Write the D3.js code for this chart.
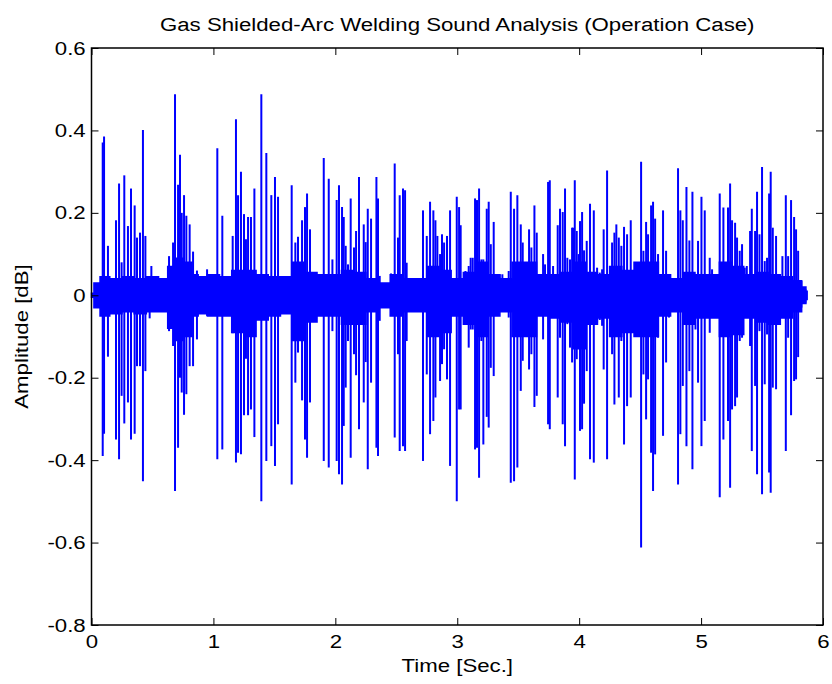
<!DOCTYPE html>
<html>
<head>
<meta charset="utf-8">
<script src="https://cdn.jsdelivr.net/npm/d3@7"></script>
<style>
  body { margin: 0; background: #fff; }
  text { font-family: "Liberation Sans", Arial, sans-serif; }
</style>
</head>
<body>
<div id="graph"></div>
<script>
let width = 832;
let height = 684;

// tick labels
let xTicks = [0, 1, 2, 3, 4, 5, 6];
let yTicks = [-0.8, -0.6, -0.4, -0.2, 0, 0.2, 0.4, 0.6];

// background noise envelope (time, upper, lower)
let bandT  = [0, 0.04, 0.1, 0.2, 0.3, 0.4, 0.5, 0.6, 0.65, 0.7, 0.8, 0.85, 0.9, 1.0, 1.1, 1.2, 1.3, 1.4, 1.5, 1.6, 1.7, 1.8, 1.9, 2.0, 2.1, 2.2, 2.3, 2.4, 2.5, 2.6, 2.7, 2.8, 2.9, 3.0, 3.1, 3.2, 3.3, 3.4, 3.5, 3.6, 3.7, 3.8, 3.9, 4.0, 4.1, 4.2, 4.3, 4.4, 4.5, 4.6, 4.7, 4.8, 4.9, 5.0, 5.1, 5.2, 5.3, 5.4, 5.5, 5.6, 5.7, 5.8, 5.85, 5.87];
let bandHi = [0.005, 0.03, 0.045, 0.04, 0.045, 0.04, 0.045, 0.04, 0.07, 0.09, 0.08, 0.05, 0.045, 0.05, 0.045, 0.06, 0.06, 0.05, 0.045, 0.045, 0.08, 0.055, 0.05, 0.05, 0.06, 0.055, 0.04, 0.03, 0.05, 0.04, 0.04, 0.07, 0.06, 0.04, 0.055, 0.08, 0.05, 0.04, 0.08, 0.08, 0.05, 0.05, 0.055, 0.08, 0.055, 0.05, 0.07, 0.06, 0.08, 0.08, 0.05, 0.04, 0.055, 0.05, 0.05, 0.08, 0.07, 0.05, 0.055, 0.05, 0.045, 0.035, 0.02, 0.01];
let bandLo = [-0.005, -0.03, -0.05, -0.045, -0.04, -0.045, -0.04, -0.04, -0.08, -0.11, -0.1, -0.05, -0.045, -0.05, -0.05, -0.09, -0.1, -0.06, -0.05, -0.045, -0.11, -0.065, -0.05, -0.05, -0.07, -0.07, -0.04, -0.03, -0.05, -0.04, -0.04, -0.1, -0.09, -0.05, -0.07, -0.1, -0.05, -0.04, -0.1, -0.1, -0.05, -0.055, -0.065, -0.13, -0.07, -0.055, -0.1, -0.09, -0.1, -0.1, -0.05, -0.04, -0.07, -0.055, -0.055, -0.1, -0.095, -0.055, -0.065, -0.07, -0.055, -0.04, -0.02, -0.01];

// individual spikes (time, peak up, peak down)
let spikeT = [
  0.092, 0.103, 0.135, 0.201, 0.226, 0.247, 0.269, 0.299, 0.324, 0.354, 0.373, 0.398, 0.422, 0.442, 0.477, 0.491, 0.636, 0.669, 0.685, 0.710, 0.726, 0.740, 0.759, 0.778, 0.805, 0.833, 0.865, 0.948,
  1.032, 1.073, 1.158, 1.185, 1.202, 1.226, 1.251, 1.267, 1.284, 1.308, 1.336, 1.393, 1.434, 1.475, 1.505, 1.530, 1.642, 1.672, 1.694, 1.727, 1.751, 1.768, 1.792, 1.905, 1.946, 1.976,
  2.011, 2.030, 2.055, 2.069, 2.085, 2.104, 2.126, 2.153, 2.170, 2.194, 2.233, 2.249, 2.266, 2.293, 2.337, 2.350, 2.364, 2.457, 2.487, 2.514, 2.528, 2.555, 2.572, 2.585, 2.719, 2.750, 2.777, 2.804, 2.821, 2.837, 2.859, 2.875, 2.892, 2.916, 2.941,
  2.996, 3.015, 3.028, 3.039, 3.067, 3.094, 3.110, 3.127, 3.146, 3.162, 3.179, 3.198, 3.214, 3.242, 3.258, 3.275, 3.299, 3.327, 3.348, 3.370, 3.400, 3.422, 3.439, 3.466, 3.493, 3.521, 3.537, 3.553, 3.589, 3.608, 3.633, 3.652, 3.704, 3.720, 3.745, 3.759, 3.786, 3.824, 3.843, 3.865, 3.884, 3.903, 3.925, 3.942,
  3.950, 3.964, 3.980, 3.996, 4.007, 4.024, 4.040, 4.062, 4.089, 4.120, 4.147, 4.169, 4.188, 4.201, 4.229, 4.253, 4.270, 4.289, 4.305, 4.325, 4.346, 4.368, 4.393, 4.423, 4.445, 4.508, 4.527, 4.549, 4.565, 4.590, 4.606, 4.623, 4.647, 4.688, 4.713, 4.737, 4.811, 4.830, 4.850, 4.880, 4.904, 4.929,
  4.954, 4.975, 5.003, 5.030, 5.071, 5.090, 5.153, 5.183, 5.221, 5.238, 5.254, 5.279, 5.295, 5.317, 5.336, 5.358, 5.375, 5.402, 5.416, 5.443, 5.459, 5.479, 5.500, 5.522, 5.541, 5.558, 5.571, 5.588, 5.615, 5.632, 5.667, 5.695, 5.714, 5.738, 5.763, 5.779, 5.796, 5.823, 5.856
];
let spikeHi = [
  0.371, 0.385, 0.12, 0.182, 0.271, 0.08, 0.291, 0.168, 0.259, 0.218, 0.14, 0.152, 0.401, 0.144, 0.04, 0.071, 0.095, 0.128, 0.488, 0.268, 0.341, 0.2, 0.243, 0.193, 0.172, 0.106, 0.06, 0.063,
  0.357, 0.193, 0.144, 0.427, 0.243, 0.30, 0.197, 0.136, 0.19, 0.19, 0.259, 0.488, 0.345, 0.243, 0.287, 0.239, 0.267, 0.128, 0.142, 0.182, 0.214, 0.247, 0.16, 0.333, 0.283, 0.087,
  0.231, 0.267, 0.214, 0.19, 0.12, 0.075, 0.235, 0.116, 0.156, 0.287, 0.172, 0.129, 0.21, 0.186, 0.287, 0.235, 0.047, 0.053, 0.32, 0.14, 0.243, 0.259, 0.255, 0.079, 0.206, 0.144, 0.227, 0.206, 0.182, 0.144, 0.1, 0.148, 0.128, 0.144, 0.206,
  0.239, 0.214, 0.17, 0.039, 0.059, 0.071, 0.091, 0.091, 0.235, 0.231, 0.259, 0.087, 0.087, 0.21, 0.227, 0.124, 0.178, 0.047, 0.051, 0.051, 0.027, 0.059, 0.251, 0.21, 0.243, 0.172, 0.128, 0.075, 0.16, 0.116, 0.218, 0.152, 0.1, 0.075, 0.275, 0.279, 0.071, 0.17, 0.21, 0.202, 0.259, 0.091, 0.087, 0.164,
  0.164, 0.279, 0.156, 0.1, 0.18, 0.202, 0.109, 0.132, 0.222, 0.206, 0.067, 0.055, 0.063, 0.16, 0.303, 0.063, 0.128, 0.152, 0.172, 0.14, 0.12, 0.166, 0.148, 0.182, 0.055, 0.324, 0.108, 0.178, 0.148, 0.218, 0.227, 0.186, 0.1, 0.206, 0.108, 0.051, 0.308, 0.206, 0.182, 0.263, 0.133, 0.251,
  0.047, 0.132, 0.239, 0.206, 0.091, 0.063, 0.247, 0.213, 0.213, 0.271, 0.182, 0.176, 0.14, 0.108, 0.124, 0.067, 0.071, 0.156, 0.21, 0.156, 0.251, 0.148, 0.311, 0.083, 0.091, 0.247, 0.30, 0.164, 0.144, 0.039, 0.095, 0.243, 0.095, 0.231, 0.19, 0.16, 0.108, 0.035, 0.015
];
let spikeLo = [
  -0.39, -0.336, -0.149, -0.35, -0.398, -0.244, -0.311, -0.26, -0.35, -0.336, -0.172, -0.172, -0.451, -0.184, -0.056, -0.04, -0.087, -0.123, -0.475, -0.37, -0.2, -0.236, -0.29, -0.24, -0.172, -0.172, -0.107, -0.05,
  -0.398, -0.374, -0.092, -0.406, -0.382, -0.386, -0.291, -0.154, -0.291, -0.277, -0.344, -0.50, -0.402, -0.366, -0.414, -0.313, -0.459, -0.212, -0.139, -0.255, -0.35, -0.394, -0.26, -0.402, -0.418, -0.087,
  -0.402, -0.434, -0.459, -0.317, -0.224, -0.111, -0.394, -0.143, -0.194, -0.325, -0.26, -0.162, -0.422, -0.212, -0.37, -0.39, -0.062, -0.04, -0.345, -0.143, -0.378, -0.366, -0.378, -0.111, -0.402, -0.192, -0.337, -0.305, -0.248, -0.1, -0.208, -0.167, -0.131, -0.204, -0.414,
  -0.50, -0.277, -0.277, -0.04, -0.054, -0.127, -0.083, -0.083, -0.374, -0.37, -0.443, -0.111, -0.362, -0.295, -0.321, -0.176, -0.196, -0.046, -0.04, -0.04, -0.038, -0.054, -0.455, -0.451, -0.418, -0.232, -0.159, -0.099, -0.18, -0.143, -0.271, -0.244, -0.107, -0.038, -0.313, -0.325, -0.038, -0.248, -0.103, -0.313, -0.366, -0.07, -0.127, -0.163,
  -0.13, -0.447, -0.155, -0.1, -0.329, -0.325, -0.263, -0.184, -0.398, -0.406, -0.066, -0.06, -0.074, -0.18, -0.398, -0.06, -0.143, -0.265, -0.1, -0.248, -0.111, -0.362, -0.269, -0.248, -0.046, -0.612, -0.192, -0.301, -0.204, -0.382, -0.475, -0.386, -0.103, -0.341, -0.163, -0.054, -0.459, -0.337, -0.22, -0.366, -0.184, -0.422,
  -0.083, -0.212, -0.366, -0.305, -0.091, -0.046, -0.49, -0.35, -0.305, -0.467, -0.277, -0.269, -0.248, -0.111, -0.103, -0.05, -0.054, -0.123, -0.378, -0.22, -0.434, -0.087, -0.483, -0.216, -0.095, -0.43, -0.479, -0.224, -0.228, -0.05, -0.054, -0.378, -0.103, -0.291, -0.208, -0.204, -0.15, -0.03, -0.018
];

let margin = {top: 48, right: 9, bottom: 59, left: 91.5};
let innerW = width - margin.left - margin.right;
let innerH = height - margin.top - margin.bottom;

let svg = d3.select('#graph')
  .append('svg')
  .attr('width', width)
  .attr('height', height)
  .style('display', 'block');

let g = svg.append('g')
  .attr('transform', 'translate(' + margin.left + ',' + margin.top + ')');

let x = d3.scaleLinear().domain([0, 6]).range([0, innerW]);
let y = d3.scaleLinear().domain([-0.8, 0.6]).range([innerH, 0]);

let blue = '#0000ff';

// noise band, drawn a bit blocky like the dense trace
let band = bandT.map((t, i) => ({t: t, hi: bandHi[i], lo: bandLo[i]}));
g.append('path')
  .datum(band)
  .attr('fill', blue)
  .attr('stroke', blue)
  .attr('stroke-width', 1.5)
  .attr('d', d3.area()
    .curve(d3.curveStep)
    .x(d => x(d.t))
    .y0(d => y(d.lo))
    .y1(d => y(d.hi)));

// spikes
let spikes = spikeT.map((t, i) => ({t: t, hi: spikeHi[i], lo: spikeLo[i]}));
g.selectAll('line.spike')
  .data(spikes)
  .enter()
  .append('line')
  .attr('class', 'spike')
  .attr('x1', d => x(d.t))
  .attr('x2', d => x(d.t))
  .attr('y1', d => y(d.lo))
  .attr('y2', d => y(d.hi))
  .attr('stroke', blue)
  .attr('stroke-width', 2);

// text in the picture is wider than Liberation Sans, so stretch it
let fs = '19px';
let stretch = 'scale(1.17,1)';

let styleAxis = (sel) => {
  sel.select('.domain').remove();
  sel.selectAll('.tick line').attr('stroke', '#000').attr('stroke-width', 1);
  sel.selectAll('.tick text')
    .attr('fill', '#000')
    .style('font-size', fs)
    .attr('transform', stretch);
};

// plain hyphen for negatives, as in the picture
let yFormat = d => d === 0 ? '0' : d3.format('.1f')(d).replace('\u2212', '-');

g.append('g')
  .attr('transform', 'translate(0,' + innerH + ')')
  .call(d3.axisBottom(x).tickValues(xTicks).tickSize(-7).tickSizeOuter(0).tickPadding(10).tickFormat(d3.format('d')))
  .call(styleAxis);

g.append('g')
  .call(d3.axisTop(x).tickValues(xTicks).tickSize(-7).tickSizeOuter(0).tickFormat(''))
  .call(styleAxis);

g.append('g')
  .call(d3.axisLeft(y).tickValues(yTicks).tickSize(-7).tickSizeOuter(0).tickPadding(5).tickFormat(yFormat))
  .call(styleAxis);

g.append('g')
  .attr('transform', 'translate(' + innerW + ',0)')
  .call(d3.axisRight(y).tickValues(yTicks).tickSize(-7).tickSizeOuter(0).tickFormat(''))
  .call(styleAxis);

g.append('rect')
  .attr('width', innerW)
  .attr('height', innerH)
  .attr('fill', 'none')
  .attr('stroke', '#000')
  .attr('stroke-width', 1.5);

// labels
svg.append('text')
  .attr('transform', 'translate(' + (margin.left + innerW / 2) + ',31) ' + stretch)
  .attr('text-anchor', 'middle')
  .style('font-size', fs)
  .text('Gas Shielded-Arc Welding Sound Analysis (Operation Case)');

svg.append('text')
  .attr('transform', 'translate(' + (margin.left + innerW / 2) + ',672) ' + stretch)
  .attr('text-anchor', 'middle')
  .style('font-size', fs)
  .text('Time [Sec.]');

svg.append('text')
  .attr('transform', 'translate(28,' + (margin.top + innerH / 2) + ') rotate(-90) ' + stretch)
  .attr('text-anchor', 'middle')
  .style('font-size', fs)
  .text('Amplitude [dB]');
</script>
</body>
</html>
